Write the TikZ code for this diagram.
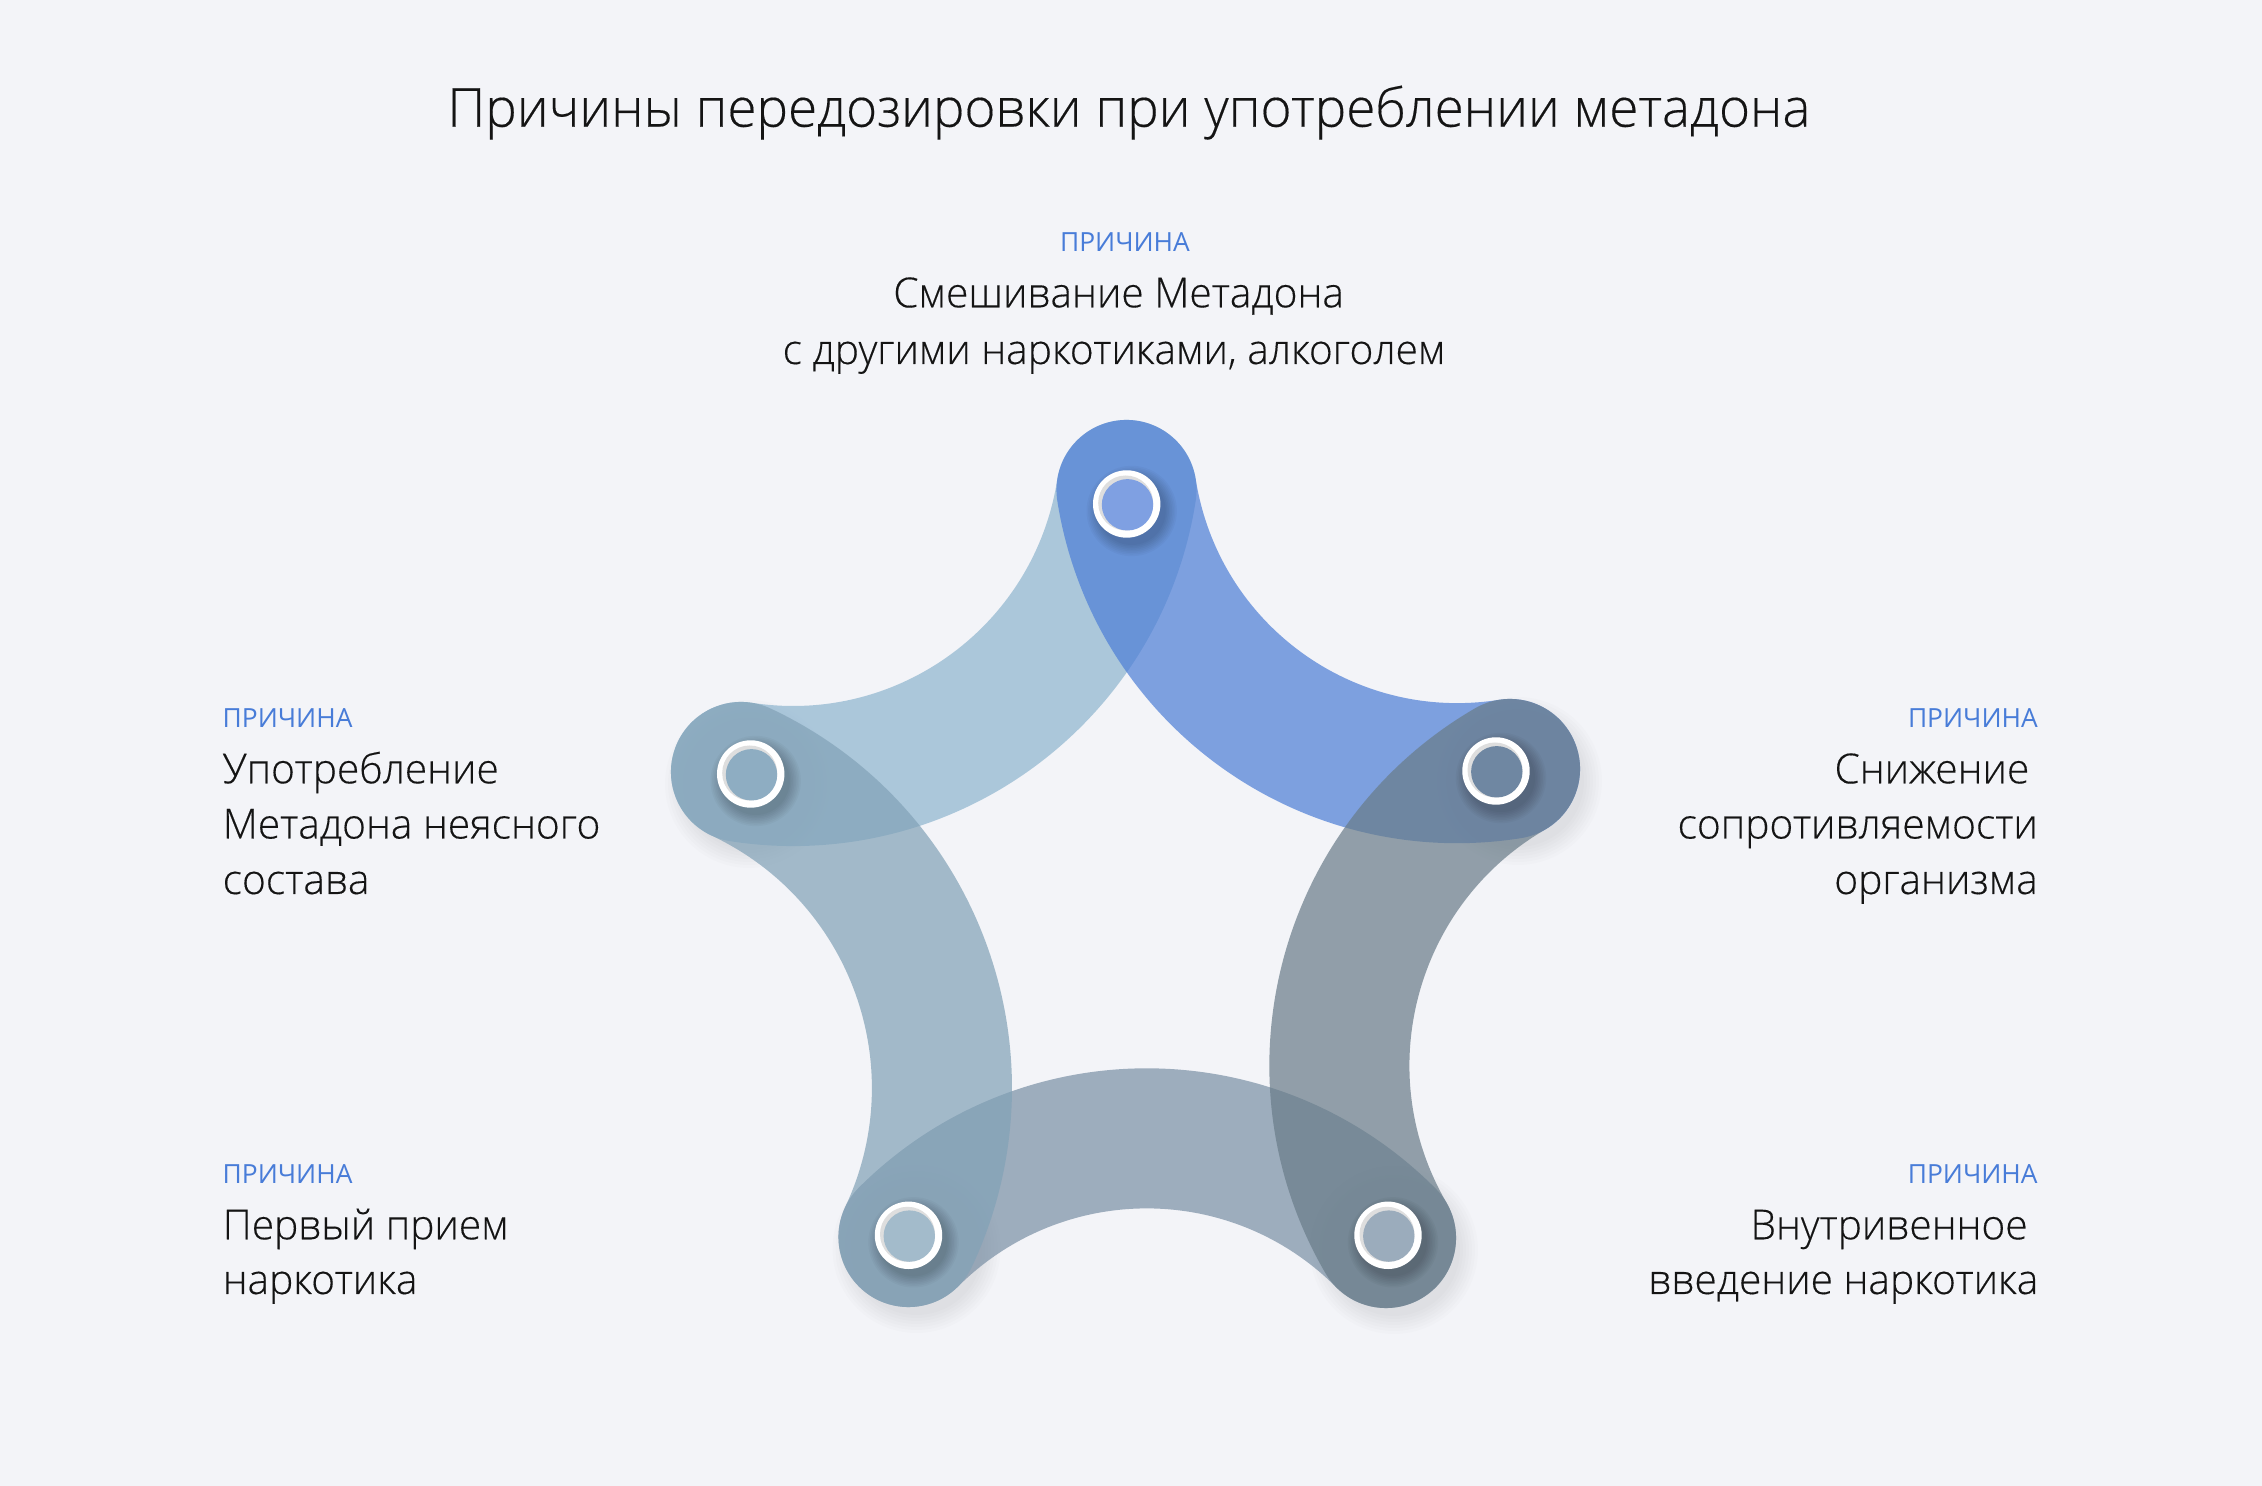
\documentclass[tikz,border=0pt]{standalone}
\usepackage{fontspec}
\IfFontExistsTF{Open Sans Light}{\setmainfont{Open Sans Light}[FakeStretch=0.985,FakeBold=0.3]}{\setmainfont{Open Sans}[FakeStretch=0.95]}
\newfontfamily\tagfont{Open Sans}
\usetikzlibrary{calc}
\definecolor{bg}{RGB}{243,244,248}
\definecolor{cA}{RGB}{142,181,207}
\definecolor{cB}{RGB}{77,126,214}
\definecolor{cC}{RGB}{105,124,137}
\definecolor{cD}{RGB}{122,144,165}
\definecolor{cE}{RGB}{130,162,183}
\definecolor{tagblue}{RGB}{72,124,216}
\definecolor{txt}{RGB}{20,20,20}
\definecolor{ringgray}{RGB}{222,222,222}
\definecolor{inT}{RGB}{127,160,226}
\definecolor{inR}{RGB}{111,135,162}
\definecolor{inL}{RGB}{142,173,194}
\definecolor{inBL}{RGB}{163,187,203}
\definecolor{inBR}{RGB}{155,172,188}
\newcommand\mkring[3]{%
  \begin{scope}[shift={(#2)}]
    \foreach \k in {0,...,7} {\fill[black,opacity=0.028] (5,-7) circle ({34+1.6*\k});}
  \end{scope}
  \node[ringout] (#1) at (#2) {};
  \fill[ringgray] ($(#2)+(-1,1)$) circle (27.5);
  \fill[#3] ($(#2)+(0.8,-0.8)$) circle (25.7);
}
\newcommand\blobshadow[1]{%
  \begin{scope}[shift={(#1)}]
    \foreach \k in {0,...,6} {\fill[black,opacity=0.012] (8,-12) circle ({66+3*\k});}
  \end{scope}
}
\begin{document}
\begin{tikzpicture}[x=0.01cm,y=0.01cm,
  band/.style={line width=1.4cm,line cap=round,draw opacity=0.71},
  ringout/.style={circle,fill=white,minimum size=0.674cm,inner sep=0pt,outer sep=0pt},
  tag/.style={text=tagblue,inner sep=0pt,font=\tagfont\fontsize{7.5}{9}\selectfont},
  lbl/.style={text=txt,inner sep=0pt,font=\fontsize{11.75}{15}\selectfont},
  ttl/.style={text=txt,inner sep=0pt,font=\fontsize{15.3}{18}\selectfont}]
\useasboundingbox (0,0) rectangle (2262,-1486);
\fill[bg] (0,0) rectangle (2262,-1486);

% title
\node[ttl,anchor=base] (title) at (1129,-126.7) {Причины передозировки при употреблении метадона};

% band end points
\coordinate (T) at (1126.5,-490);
\coordinate (R) at (1510,-769);
\coordinate (L) at (741,-772);
\coordinate (BL) at (908.5,-1237);
\coordinate (BR) at (1386,-1238);
% ring centres
\coordinate (Tc) at (1126.7,-504);
\coordinate (Rc) at (1496,-771);
\coordinate (Lc) at (750.7,-774);
\coordinate (BLc) at (908.5,-1235.3);
\coordinate (BRc) at (1388,-1235.3);

% soft shadows under the band ends
\blobshadow{R}
\blobshadow{BL}
\blobshadow{BR}
\blobshadow{L}

% bands
\draw[band,draw=cA] (L) to[bend right=45] (T);
\draw[band,draw=cB] (T) to[bend right=45] (R);
\draw[band,draw=cD] (BR) to[bend right=45] (BL);
\draw[band,draw=cC] (R) to[bend right=45] (BR);
\draw[band,draw=cE] (BL) to[bend right=45] (L);

% rings
\mkring{nT}{Tc}{inT}
\mkring{nR}{Rc}{inR}
\mkring{nL}{Lc}{inL}
\mkring{nBL}{BLc}{inBL}
\mkring{nBR}{BRc}{inBR}

% top label
\node[tag,anchor=base] (t0) at (1125,-251.7) {ПРИЧИНА};
\node[lbl,anchor=base] (t1) at (1118.6,-307.3) {Смешивание Метадона};
\node[lbl,anchor=base] (t2) at (1114,-364) {с другими наркотиками, алкоголем};

% left label
\node[tag,anchor=base west] (l0) at (222,-727.7) {ПРИЧИНА};
\node[lbl,anchor=base west] (l1) at (222,-783.3) {Употребление};
\node[lbl,anchor=base west] (l2) at (222,-838.5) {Метадона неясного};
\node[lbl,anchor=base west] (l3) at (222,-894) {состава};

% right label
\node[tag,anchor=base east] (r0) at (2038.5,-727.7) {ПРИЧИНА};
\node[lbl,anchor=base east] (r1) at (2030,-783.3) {Снижение};
\node[lbl,anchor=base east] (r2) at (2038.5,-838.5) {сопротивляемости};
\node[lbl,anchor=base east] (r3) at (2038.5,-894) {организма};

% bottom-left label
\node[tag,anchor=base west] (bl0) at (222,-1183.3) {ПРИЧИНА};
\node[lbl,anchor=base west] (bl1) at (222,-1239.3) {Первый прием};
\node[lbl,anchor=base west] (bl2) at (222,-1294) {наркотика};

% bottom-right label
\node[tag,anchor=base east] (br0) at (2038.3,-1183.3) {ПРИЧИНА};
\node[lbl,anchor=base east] (br1) at (2028.3,-1239.3) {Внутривенное};
\node[lbl,anchor=base east] (br2) at (2039,-1294) {введение наркотика};
\end{tikzpicture}
\end{document}
